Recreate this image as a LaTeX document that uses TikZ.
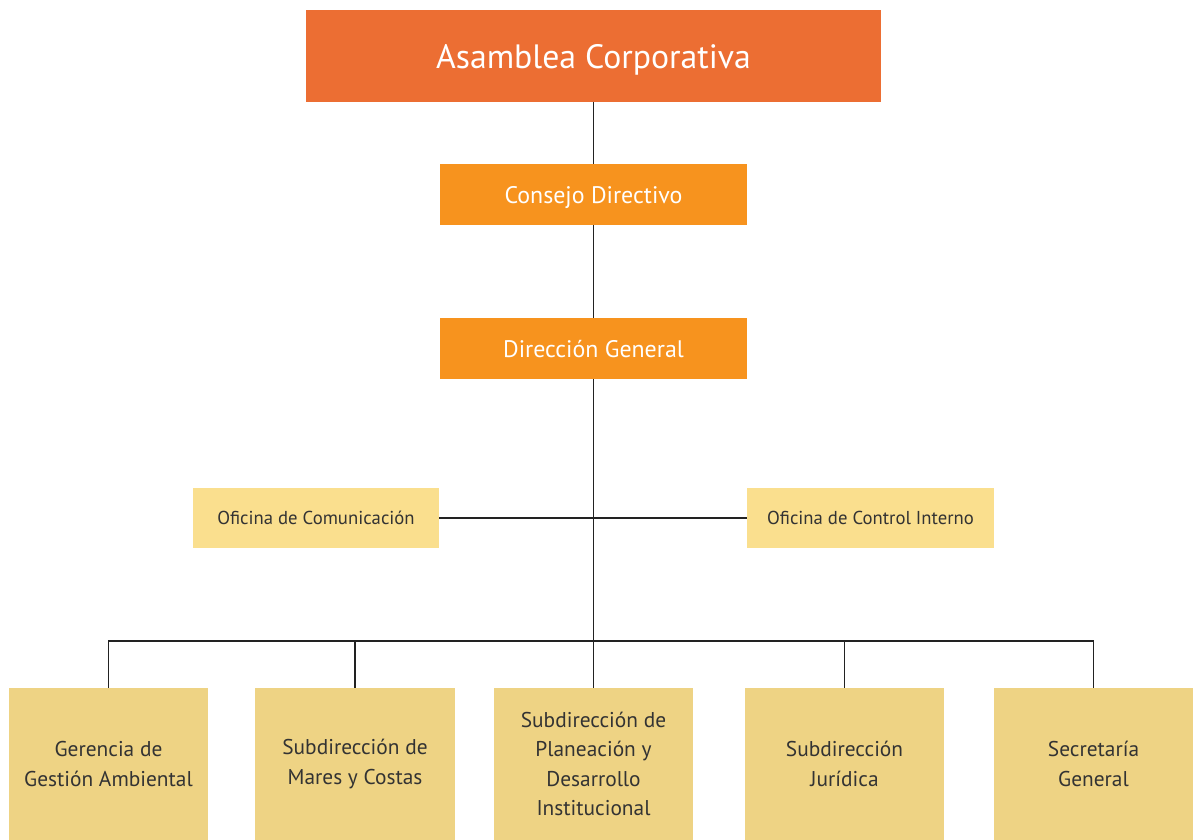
\documentclass[tikz,border=0pt]{standalone}
\usepackage{fontspec}
\setmainfont{PT Sans}
\usepackage{tikz}
\usetikzlibrary{positioning}

\definecolor{asamblea}{HTML}{EC6E33}
\definecolor{consejo}{HTML}{F7931E}
\definecolor{oficina}{HTML}{FADF8E}
\definecolor{subdir}{HTML}{EED384}
\definecolor{linea}{HTML}{222222}
\definecolor{texto}{HTML}{333333}

\begin{document}
\begin{tikzpicture}[
    x=0.025cm, y=-0.025cm,
    topbox/.style={rectangle, fill=asamblea, text=white, minimum width=14.375cm, minimum height=2.3cm, inner sep=0pt, text depth=0pt, font=\fontsize{24}{29}\selectfont},
    midbox/.style={rectangle, fill=consejo, text=white, minimum width=7.675cm, minimum height=1.525cm, inner sep=0pt, text depth=0pt, font=\fontsize{17}{20}\selectfont},
    sidebox/.style={rectangle, fill=oficina, text=texto, minimum width=6.15cm, minimum height=1.5cm, inner sep=0pt, text depth=0pt, font=\fontsize{13.3}{16}\selectfont},
    unitbox/.style={rectangle, fill=subdir, text=texto, minimum width=4.975cm, minimum height=3.8cm, inner sep=0pt, align=center, font=\fontsize{15.2}{21}\selectfont},
    link/.style={draw=linea, line width=1pt},
]
    \useasboundingbox (0,0) rectangle (1195,840);

    % Direccion superior
    \node[topbox] (asamblea) at (593.5,56) {Asamblea Corporativa};
    \node[midbox] (consejo) at (593.5,194.5) {Consejo Directivo};
    \node[midbox] (direccion) at (593.5,348.5) {Dirección General};

    % Oficinas asesoras
    \node[sidebox] (comunicacion) at (316,518) {Oficina de Comunicación};
    \node[sidebox] (control) at (870.5,518) {Oficina de Control Interno};

    % Dependencias
    \node[unitbox] (gerencia) at (108.5,764) {Gerencia de\\Gestión Ambiental};
    \node[unitbox] (mares) at (355,764) {Subdirección de\\Mares y Costas};
    \node[unitbox] (planeacion) at (593.5,764) {Subdirección de\\Planeación y\\Desarrollo\\Institucional};
    \node[unitbox] (juridica) at (844.5,764) {Subdirección\\Jurídica};
    \node[unitbox] (secretaria) at (1093.5,764) {Secretaría\\General};

    % Conectores
    \coordinate (bus) at (593.5,641);
    \draw[link] (asamblea) -- (consejo);
    \draw[link] (consejo) -- (direccion);
    \draw[link] (direccion) -- (planeacion);
    \draw[link] (comunicacion) -- (control);
    \draw[link] (gerencia.north) |- (bus) -| (secretaria.north);
    \draw[link] (mares.north) -- (mares.north |- bus);
    \draw[link] (juridica.north) -- (juridica.north |- bus);

\end{tikzpicture}
\end{document}
